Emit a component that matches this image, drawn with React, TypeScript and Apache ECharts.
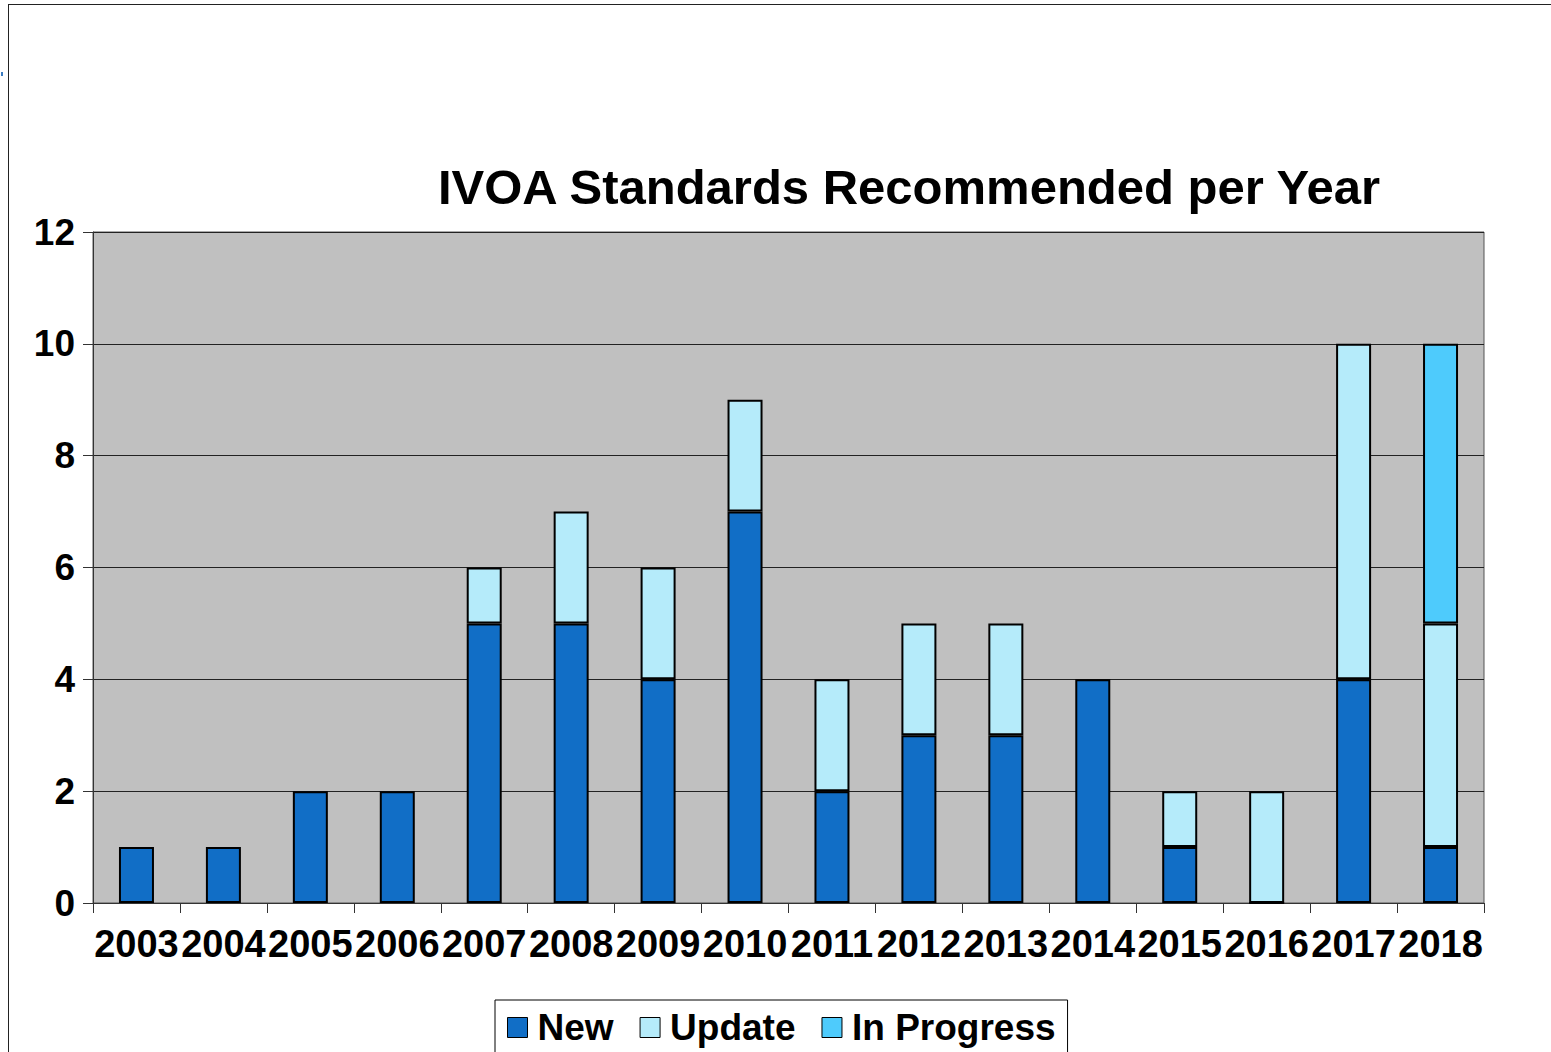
import React, { useEffect, useRef } from "react";
import * as echarts from "echarts";

const years = ["2003", "2004", "2005", "2006", "2007", "2008", "2009", "2010", "2011", "2012", "2013", "2014", "2015", "2016", "2017", "2018"];
const newValues = [1, 1, 2, 2, 5, 5, 4, 7, 2, 3, 3, 4, 1, 0, 4, 1];
const updateValues = [null, null, null, null, 1, 2, 2, 2, 2, 2, 2, null, 1, 2, 6, 4];
const inProgressValues = [null, null, null, null, null, null, null, null, null, null, null, null, null, null, null, 5];
const yTicks = { min: 0, max: 12, interval: 2 };

const FONT = "'Liberation Sans', Arial, sans-serif";

export default function App() {
  const ref = useRef<HTMLDivElement>(null);
  useEffect(() => {
    if (!ref.current) return;
    const chart = echarts.init(ref.current, null, { renderer: "svg" });
    const barStyle = (color: string) => ({ color, borderColor: "#000", borderWidth: 2 });
    chart.setOption({
      animation: false,
      backgroundColor: "#fff",
      title: {
        text: "IVOA Standards Recommended per Year",
        left: 909,
        top: 162,
        padding: 0,
        textAlign: "center",
        textStyle: { fontFamily: FONT, fontWeight: "bold", fontSize: 49, lineHeight: 50, color: "#000" },
      },
      grid: {
        left: 93,
        right: 67,
        top: 232,
        bottom: 149,
        show: true,
        backgroundColor: "#c0c0c0",
        borderColor: "#555",
        borderWidth: 1,
      },
      legend: {
        left: 495,
        top: 1000,
        padding: [9, 12, 12, 12],
        borderColor: "#000",
        borderWidth: 1,
        backgroundColor: "#fff",
        itemWidth: 20,
        itemHeight: 20,
        itemGap: 26,
        icon: "rect",
        itemStyle: { borderColor: "#000", borderWidth: 1 },
        textStyle: { fontFamily: FONT, fontWeight: "bold", fontSize: 37, color: "#000", padding: [0, 0, 0, 5] },
        data: ["New", "Update", "In Progress"],
      },
      xAxis: {
        type: "category",
        data: years,
        boundaryGap: true,
        axisLine: { show: true, lineStyle: { color: "#333", width: 1 } },
        axisTick: { show: true, length: 10, alignWithLabel: false, lineStyle: { color: "#333" } },
        axisLabel: { interval: 0, margin: 22, fontFamily: FONT, fontWeight: "bold", fontSize: 38, color: "#000" },
      },
      yAxis: {
        type: "value",
        min: yTicks.min,
        max: yTicks.max,
        interval: yTicks.interval,
        axisLine: { show: true, lineStyle: { color: "#333", width: 1 } },
        axisTick: { show: true, length: 10, lineStyle: { color: "#333" } },
        splitLine: { show: true, lineStyle: { color: "#222", width: 1 } },
        axisLabel: { margin: 18, fontFamily: FONT, fontWeight: "bold", fontSize: 37, color: "#000" },
      },
      series: [
        { name: "New", type: "bar", stack: "s", barWidth: 35, data: newValues, itemStyle: barStyle("#116ec6") },
        { name: "Update", type: "bar", stack: "s", barWidth: 35, data: updateValues, itemStyle: barStyle("#b5ebfa") },
        { name: "In Progress", type: "bar", stack: "s", barWidth: 35, data: inProgressValues, itemStyle: barStyle("#4ecbfc") },
      ],
      graphic: [
        { type: "line", shape: { x1: 8, y1: 4.5, x2: 1551, y2: 4.5 }, style: { stroke: "#222", lineWidth: 1 } },
        { type: "line", shape: { x1: 8.5, y1: 4, x2: 8.5, y2: 1052 }, style: { stroke: "#222", lineWidth: 1 } },
        { type: "rect", shape: { x: 1, y: 72, width: 2, height: 4 }, style: { fill: "#3a7bc0" } },
      ],
    });
    return () => chart.dispose();
  }, []);
  return <div ref={ref} style={{ position: "fixed", left: 0, top: 0, width: 1551, height: 1052 }} />;
}
